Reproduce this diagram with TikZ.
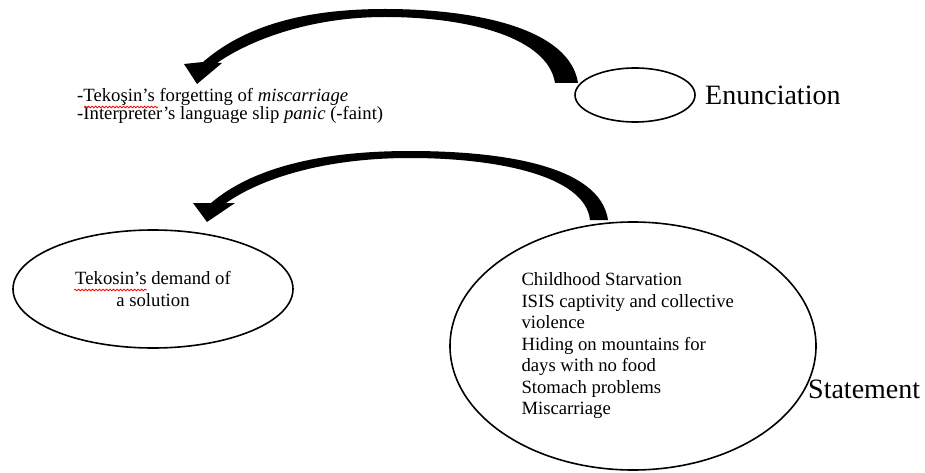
\documentclass[tikz,border=0pt]{standalone}
\usepackage{fontspec}
\setmainfont{Liberation Serif}
\usetikzlibrary{shapes.geometric,positioning,decorations.pathmorphing}

\begin{document}
\begin{tikzpicture}[x=1pt, y=-1pt,
  ovl/.style={draw, ellipse, line width=1.6pt, inner sep=0pt},
  body/.style={font=\fontsize{18.7}{21.5}\selectfont, align=left, inner sep=0pt},
  tag/.style={font=\fontsize{28}{32}\selectfont, inner sep=0pt},
  bendarr/.style={fill=black},
  spell/.style={draw=red, line width=0.8pt, decorate,
                decoration={snake, amplitude=0.8pt, segment length=3.5pt}},
]
\useasboundingbox (0,0) rectangle (925,473);

\node[ovl, minimum width=120, minimum height=54] (enun) at (635,95) {};
\node[tag, anchor=west] (enunlbl) at (705,95) {Enunciation};

\node[body, anchor=north west, font=\fontsize{18.7}{18.5}\selectfont] (slips) at (77,88)
  {-Tekoşin’s forgetting of \textit{miscarriage}\\
   -Interpreter’s language slip \textit{panic} (-faint)};

\node[ovl, body, align=center, minimum width=280, minimum height=118] (demand) at (153,289)
  {Tekosin’s demand of\\a solution};

\node[ovl, body, align=flush left, text width=223, minimum width=366, minimum height=248]
  (stmt) at (633,346)
  {Childhood Starvation\\
   ISIS captivity and collective\\
   violence\\
   Hiding on mountains for\\
   days with no food\\
   Stomach problems\\
   Miscarriage};
\node[tag, anchor=west] (stmtlbl) at (808,389) {Statement};

\fill[bendarr] (578,83) .. controls (570,30) and (480,9) .. (385,9)
  .. controls (295,9) and (240,30) .. (203,62)
  -- (184,64) -- (197,84) -- (222,63) -- (217,63)
  .. controls (250,40) and (310,17) .. (385,17)
  .. controls (470,17) and (548,38) .. (555,83) -- cycle;

\fill[bendarr] (608,220) .. controls (600,165) and (500,151) .. (410,151)
  .. controls (320,151) and (252,168) .. (211,203)
  -- (193,203) -- (207,222) -- (235,203) -- (226,203)
  .. controls (262,178) and (325,158) .. (410,158)
  .. controls (495,158) and (585,175) .. (590,220) -- cycle;

\draw[spell] (84,107) -- (158,107);
\draw[spell] (74,290) -- (147,290);

\end{tikzpicture}
\end{document}
